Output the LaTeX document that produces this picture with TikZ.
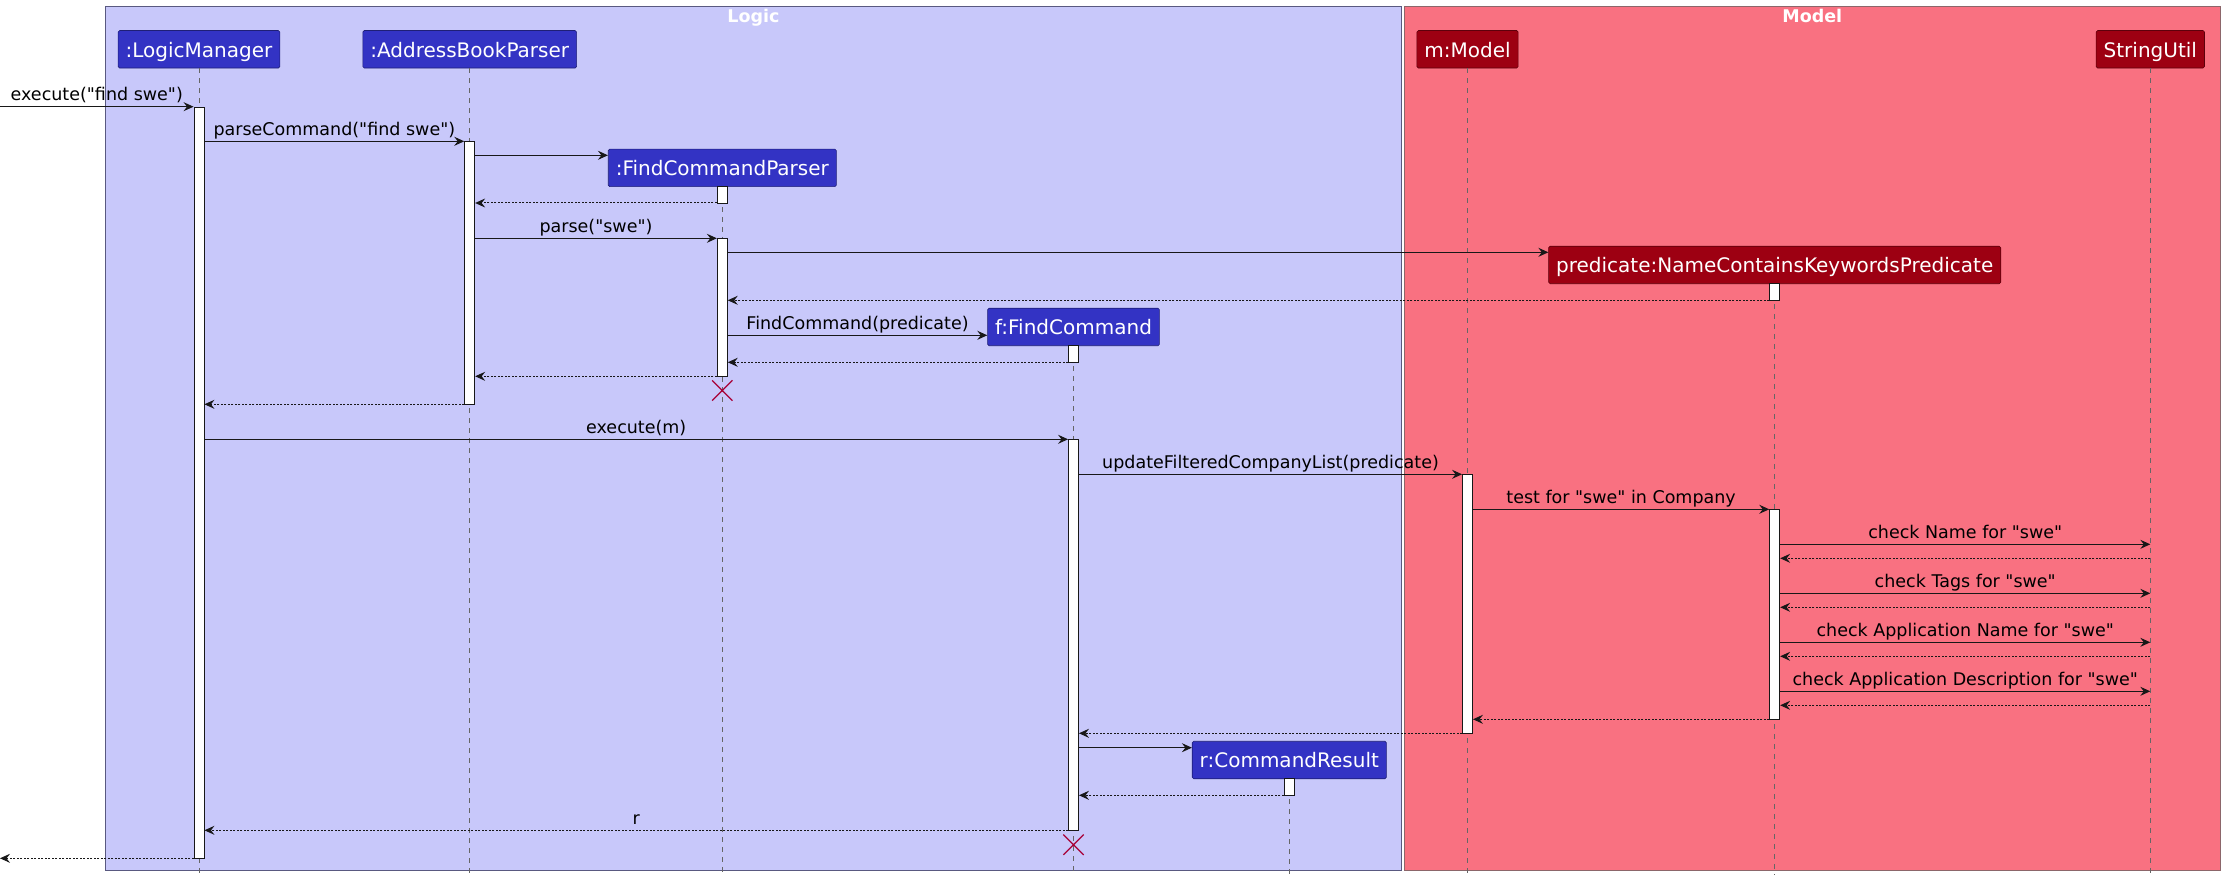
\documentclass[tikz,border=0pt]{standalone}
\usepackage{fontspec}
\setmainfont{DejaVu Sans}[Ligatures=TeXOff]
\usepackage{tikz}
\usetikzlibrary{arrows.meta,shapes.misc}

\definecolor{logicbg}{HTML}{C8C8FA}
\definecolor{logicfg}{HTML}{3333C4}
\definecolor{modelbg}{HTML}{F97181}
\definecolor{modelfg}{HTML}{9D0012}
\definecolor{killred}{HTML}{A80036}
\definecolor{ink}{HTML}{181818}

\newcommand{\actbar}[4]{%
	\pgfmathsetmacro{\barlen}{#4-#3}%
	\node[act, anchor=north, minimum height=\barlen pt] (#1) at (#2.south |- 0,#3) {};}

\begin{document}
\begin{tikzpicture}[x=1pt, y=-1pt,
	part/.style={line width=0.6pt, rounded corners=1.5pt, text=white,
		inner xsep=7.5pt, inner ysep=6.5pt, text height=20pt, text depth=4.5pt,
		font=\fontsize{20}{24}\selectfont},
	lpart/.style={part, draw=logicfg!60!black, fill=logicfg},
	mpart/.style={part, draw=modelfg!60!black, fill=modelfg},
	frm/.style={line width=1pt, anchor=north west, inner sep=0pt},
	ttl/.style={anchor=base, text=white, font=\bfseries\fontsize{17.5}{20}\selectfont},
	life/.style={draw=black!60, line width=0.7pt, dash pattern=on 5pt off 5pt},
	act/.style={draw=ink, fill=white, line width=0.9pt, minimum width=10pt, inner sep=0pt},
	msg/.style={draw=ink, line width=1pt, -{Stealth[length=10pt,width=9pt,inset=3.5pt]}},
	ret/.style={msg, dash pattern=on 2pt off 1.5pt},
	lbl/.style={anchor=base, yshift=6pt, inner sep=0pt, text=black, font=\fontsize{17.5}{20}\selectfont},
	kill/.style={cross out, draw=killred, line width=1.3pt, minimum size=19pt, inner sep=0pt}
	]
	\useasboundingbox (0,0) rectangle (2224,882);

	% packages
	\node[frm, draw=black!50!blue!30!gray, fill=logicbg, minimum width=1296pt, minimum height=864pt] (logic) at (105,6) {};
	\node[frm, draw=modelfg!40!black!60, fill=modelbg, minimum width=815.5pt, minimum height=864pt] (model) at (1404,6) {};
	\node[ttl] (logicT) at (logic.north |- 0,22.7) {Logic};
	\node[ttl] (modelT) at (model.north |- 0,22.7) {Model};

	% participants
	\node[lpart] (lm) at (199,49.3) {:LogicManager};
	\node[lpart] (abp) at (469.7,49.3) {:AddressBookParser};
	\node[lpart] (fcp) at (722.3,167.9) {:FindCommandParser};
	\node[lpart] (f) at (1073.5,327) {f:FindCommand};
	\node[lpart] (r) at (1289.3,760) {r:CommandResult};
	\node[mpart] (m) at (1467.5,49.3) {m:Model};
	\node[mpart] (pred) at (1774.7,265) {predicate:NameContainsKeywordsPredicate};
	\node[mpart] (su) at (2150.3,49.3) {StringUtil};

	\foreach \p in {lm,abp,fcp,f,r,m,pred,su}
		\draw[life] (\p.south) -- (\p.south |- 0,875);

	% activations
	\actbar{lmA}{lm}{106.7}{858.3}
	\actbar{abpA}{abp}{141.3}{404.3}
	\actbar{fcpA}{fcp}{186}{203}
	\actbar{fcpB}{fcp}{238.3}{376.3}
	\actbar{predA}{pred}{283.3}{300.3}
	\actbar{fA}{f}{345.3}{362.3}
	\actbar{fB}{f}{439.3}{830.3}
	\actbar{mA}{m}{474.3}{733.3}
	\actbar{predB}{pred}{509.3}{719.3}
	\actbar{rA}{r}{778.3}{795.3}

	\coordinate (in) at (0,106.7);
	\coordinate (out) at (0,858.3);

	% messages
	\draw[msg] (in) -- node[lbl] {execute("find swe")} (lmA.west |- in);
	\draw[msg] (lmA.east |- 0,141.3) -- node[lbl] {parseCommand("find swe")} (abpA.west |- 0,141.3);
	\draw[msg] (abpA.east |- 0,155.3) -- (fcp.west |- 0,155.3);
	\draw[ret] (fcpA.west |- 0,203) -- (abpA.east |- 0,203);
	\draw[msg] (abpA.east |- 0,238.3) -- node[lbl] {parse("swe")} (fcpB.west |- 0,238.3);
	\draw[msg] (fcpB.east |- 0,252.3) -- (pred.west |- 0,252.3);
	\draw[ret] (predA.west |- 0,300.3) -- (fcpB.east |- 0,300.3);
	\draw[msg] (fcpB.east |- 0,335.3) -- node[lbl] {FindCommand(predicate)} (f.west |- 0,335.3);
	\draw[ret] (fA.west |- 0,362.3) -- (fcpB.east |- 0,362.3);
	\draw[ret] (fcpB.west |- 0,376.3) -- (abpA.east |- 0,376.3);
	\draw[ret] (abpA.west |- 0,404.3) -- (lmA.east |- 0,404.3);
	\draw[msg] (lmA.east |- 0,439.3) -- node[lbl] {execute(m)} (fB.west |- 0,439.3);
	\draw[msg] (fB.east |- 0,474.3) -- node[lbl] {updateFilteredCompanyList(predicate)} (mA.west |- 0,474.3);
	\draw[msg] (mA.east |- 0,509.3) -- node[lbl] {test for "swe" in Company} (predB.west |- 0,509.3);
	\foreach \y/\txt in {544.3/Name, 593.3/Tags, 642.3/Application Name, 691.3/Application Description}{
		\draw[msg] (predB.east |- 0,\y) -- node[lbl] {check \txt\ for "swe"} (su.south |- 0,\y);
		\draw[ret] (su.south |- 0,\y+14) -- (predB.east |- 0,\y+14);
	}
	\draw[ret] (predB.west |- 0,719.3) -- (mA.east |- 0,719.3);
	\draw[ret] (mA.west |- 0,733.3) -- (fB.east |- 0,733.3);
	\draw[msg] (fB.east |- 0,747.7) -- (r.west |- 0,747.7);
	\draw[ret] (rA.west |- 0,795.3) -- (fB.east |- 0,795.3);
	\draw[ret] (fB.west |- 0,830.3) -- node[lbl] {r} (lmA.east |- 0,830.3);
	\draw[ret] (lmA.west |- out) -- (out);

	\node[kill] (fcpX) at (fcp.south |- 0,390.5) {};
	\node[kill] (fX) at (f.south |- 0,844.7) {};
\end{tikzpicture}
\end{document}
